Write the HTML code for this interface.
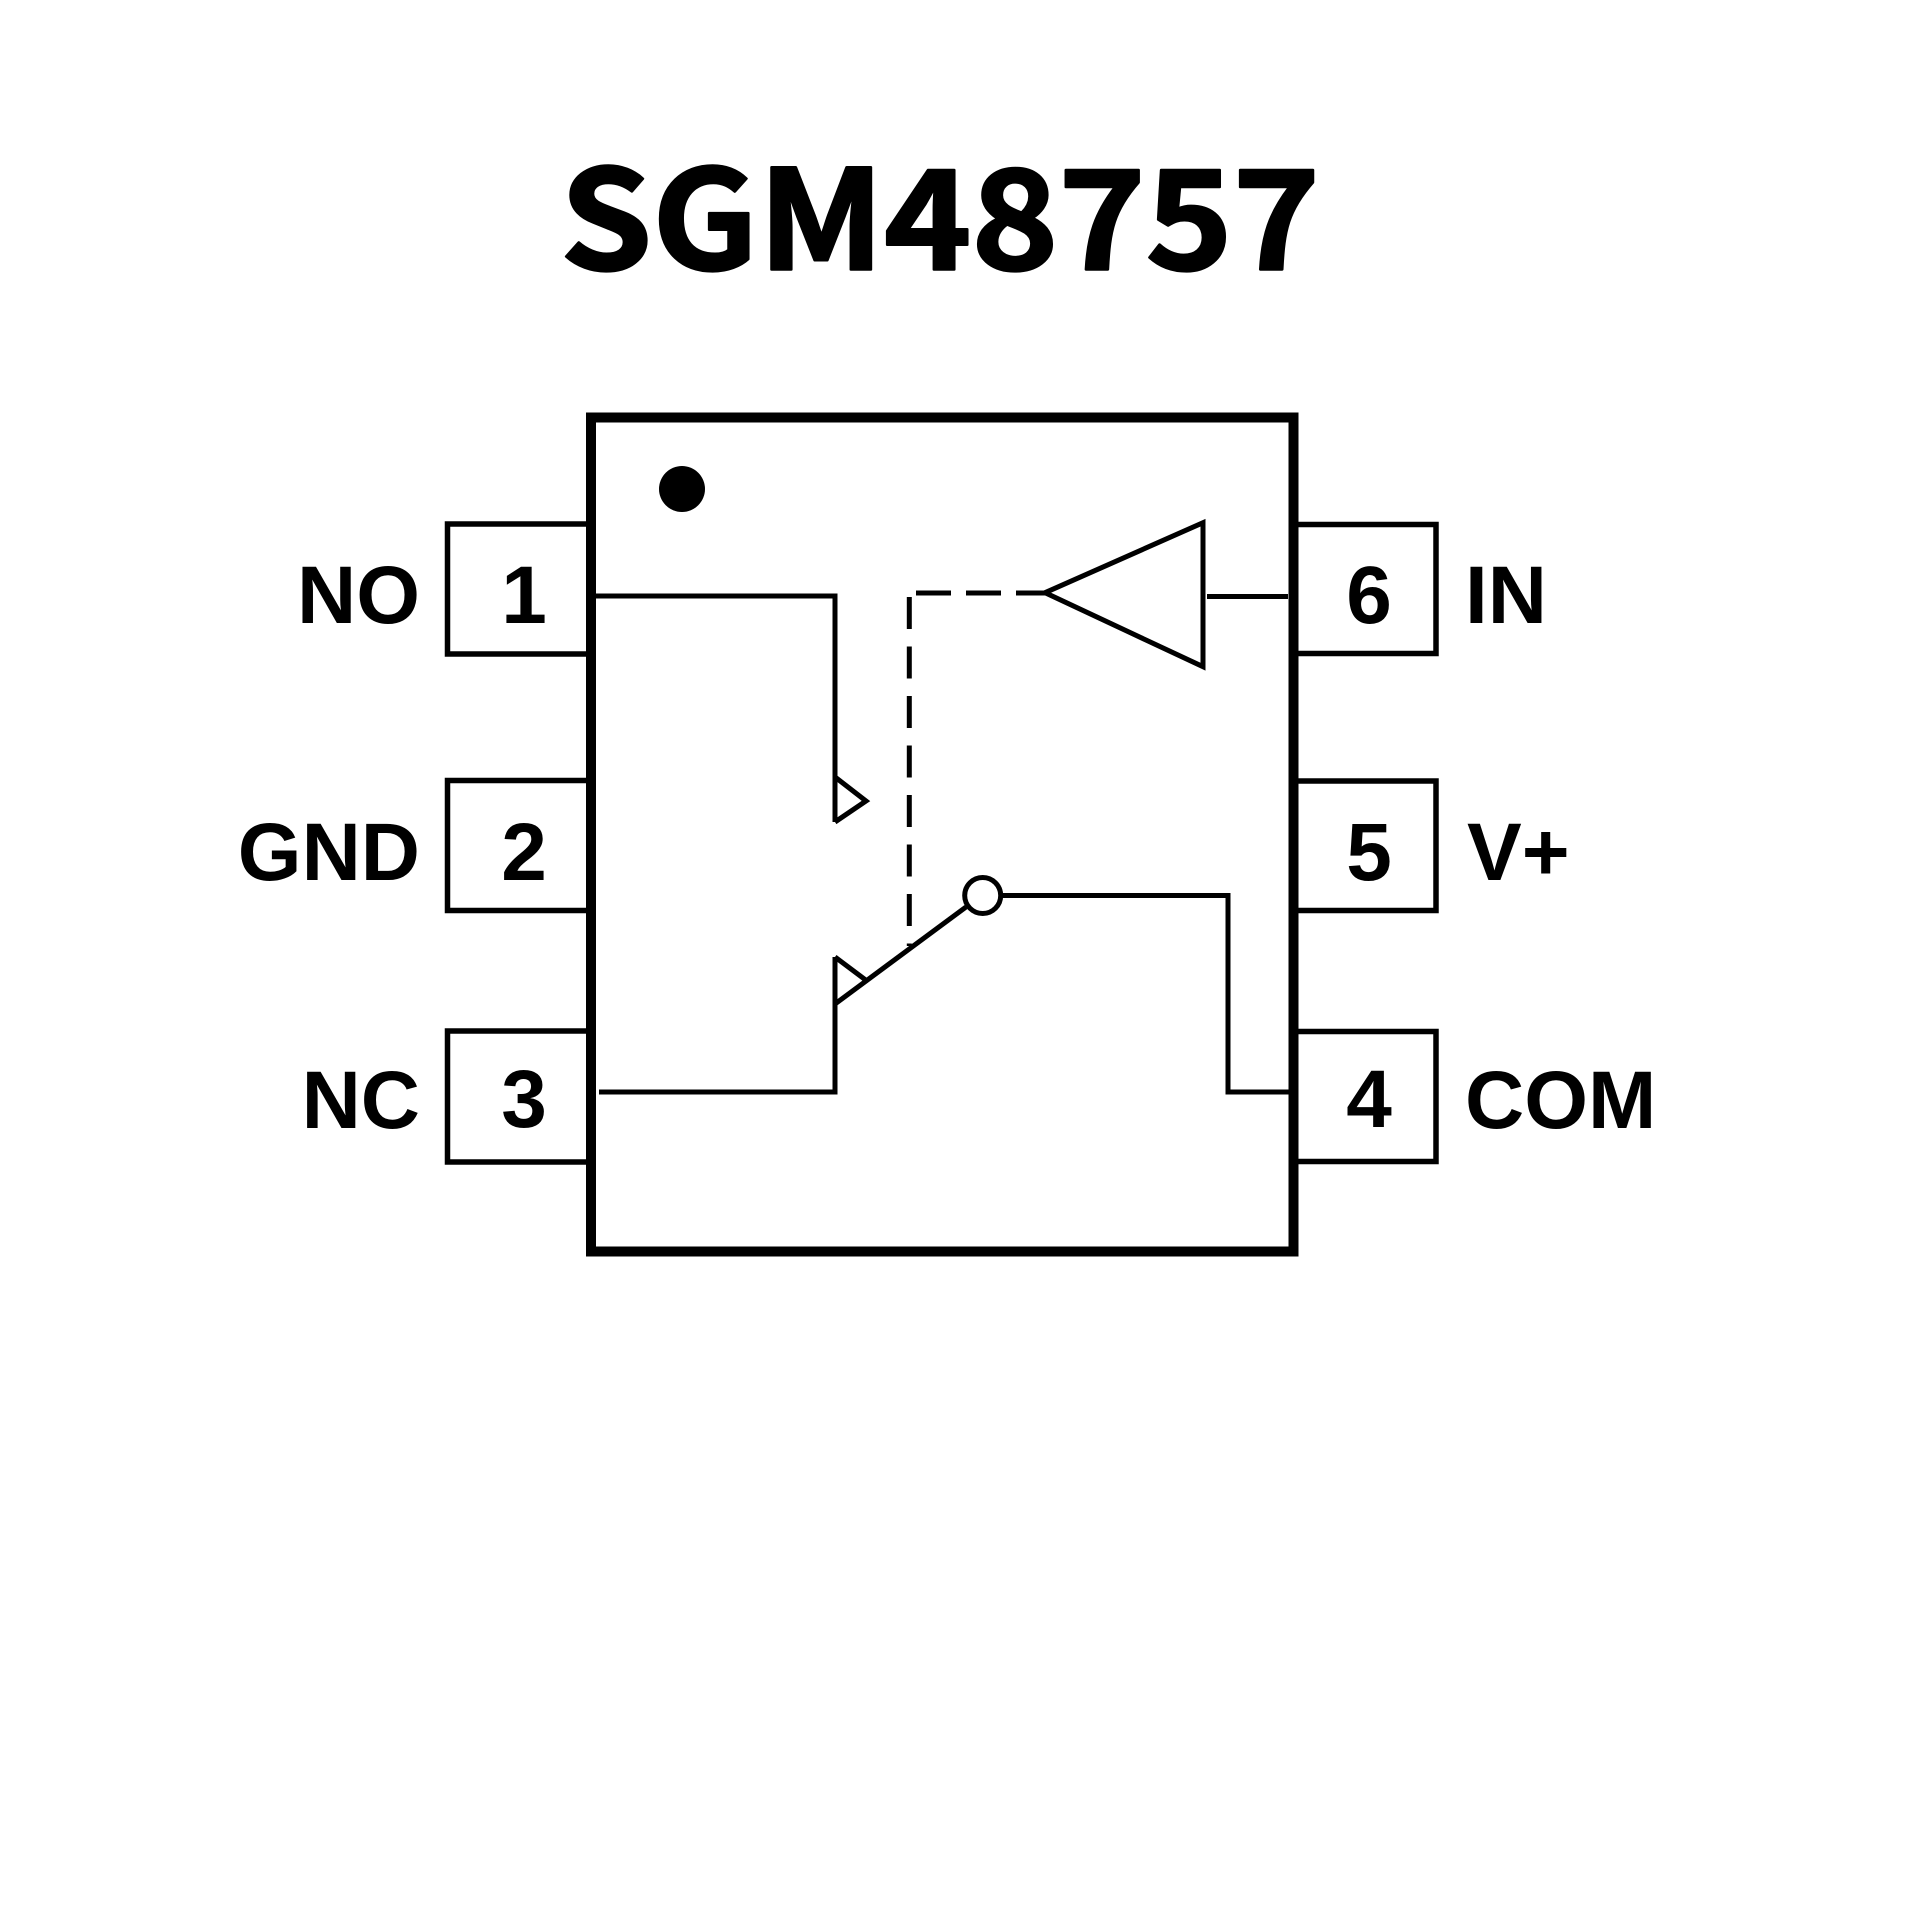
<!DOCTYPE html>
<html>
<head>
<meta charset="utf-8">
<style>
  html, body { margin: 0; padding: 0; background: #ffffff; }
  svg { display: block; }
  .lbl { font-family: "Liberation Sans", Arial, sans-serif; font-weight: bold; font-size: 82px; fill: #000; }
  .ttl { font-family: "Noto Sans CJK SC", "Liberation Sans", sans-serif; font-weight: 700; font-size: 138px; fill: #000; stroke: #000; stroke-width: 2.5; stroke-linejoin: round; }
</style>
</head>
<body>
<svg width="1920" height="1920" viewBox="0 0 1920 1920" xmlns="http://www.w3.org/2000/svg">
  <rect x="0" y="0" width="1920" height="1920" fill="#ffffff"/>

  <!-- Title -->
  <text class="ttl" x="560" y="269.5" textLength="760" lengthAdjust="spacingAndGlyphs">SGM48757</text>

  <!-- Main package body -->
  <rect x="591" y="417.5" width="702.5" height="834" fill="none" stroke="#000" stroke-width="10"/>

  <!-- Pin 1 dot -->
  <circle cx="682" cy="489" r="23" fill="#000"/>

  <!-- Pin boxes -->
  <g fill="none" stroke="#000" stroke-width="5.5">
    <polyline points="589,524 447.5,524 447.5,654 589,654"/>
    <polyline points="589,780.5 447.5,780.5 447.5,910.5 589,910.5"/>
    <polyline points="589,1031 447.5,1031 447.5,1162 589,1162"/>
    <polyline points="1294,524.5 1436,524.5 1436,653.5 1294,653.5"/>
    <polyline points="1294,781 1436,781 1436,910.5 1294,910.5"/>
    <polyline points="1294,1031.5 1436,1031.5 1436,1161.5 1294,1161.5"/>
  </g>

  <!-- Internal wiring -->
  <g fill="none" stroke="#000" stroke-width="5" stroke-linejoin="miter">
    <polyline points="596,596 835,596 835,822"/>
    <polyline points="835,777 866,801 835,822"/>
    <polyline points="599,1092 835,1092 835,957"/>
    <polyline points="835,957 867,981"/>
    <line x1="835" y1="1004" x2="966" y2="907"/>
    <circle cx="982.7" cy="895.5" r="18"/>
    <polyline points="1001,895.5 1228,895.5 1228,1092 1290,1092"/>
    <polygon points="1045,592.7 1203,522.7 1203,666.7"/>
    <line x1="1207" y1="596.5" x2="1288" y2="596.5"/>
  </g>

  <!-- Dashed control lines -->
  <g fill="none" stroke="#000" stroke-width="5">
    <line x1="916" y1="593" x2="1047" y2="593" stroke-dasharray="35 15"/>
    <line x1="909.3" y1="597" x2="909.3" y2="946" stroke-dasharray="32 17.5"/>
  </g>

  <!-- Left labels -->
  <text class="lbl" x="420" y="623" text-anchor="end">NO</text>
  <text class="lbl" x="420" y="880" text-anchor="end">GND</text>
  <text class="lbl" x="420" y="1128" text-anchor="end">NC</text>

  <!-- Left pin numbers -->
  <text class="lbl" x="524" y="623" text-anchor="middle">1</text>
  <text class="lbl" x="524" y="880" text-anchor="middle">2</text>
  <text class="lbl" x="524" y="1127" text-anchor="middle">3</text>

  <!-- Right pin numbers -->
  <text class="lbl" x="1369" y="623" text-anchor="middle">6</text>
  <text class="lbl" x="1369" y="880" text-anchor="middle">5</text>
  <text class="lbl" x="1369" y="1127" text-anchor="middle">4</text>

  <!-- Right labels -->
  <text class="lbl" x="1465" y="623">IN</text>
  <text class="lbl" x="1467" y="880">V+</text>
  <text class="lbl" x="1465" y="1128">COM</text>
</svg>
</body>
</html>
